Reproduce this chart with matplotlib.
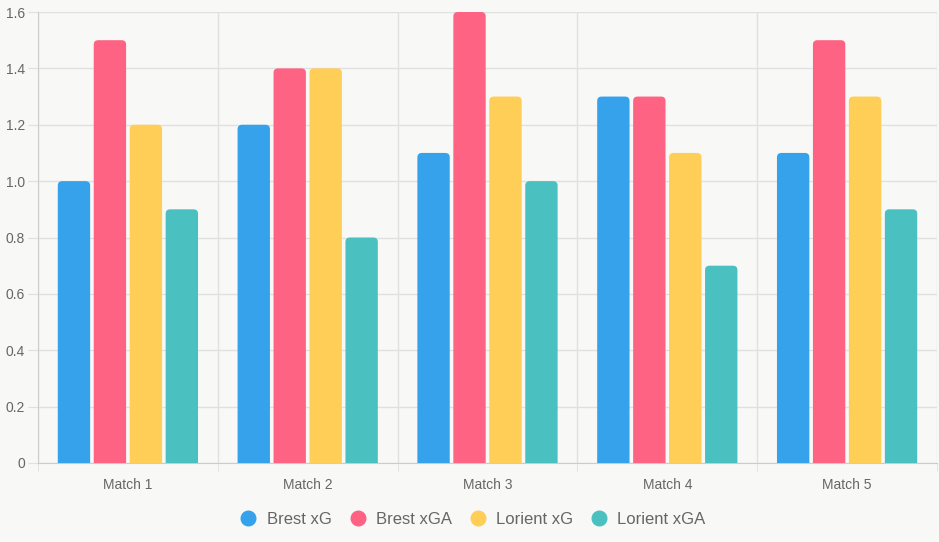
import matplotlib
matplotlib.use("Agg")
from matplotlib import pyplot as plt
from matplotlib.lines import Line2D
from matplotlib.patches import FancyBboxPatch
from matplotlib.ticker import FixedLocator, FuncFormatter

plt.rcParams["font.family"] = ["Liberation Sans", "DejaVu Sans"]

matches = ["Match 1", "Match 2", "Match 3", "Match 4", "Match 5"]
brest_xg = [1.0, 1.2, 1.1, 1.3, 1.1]
brest_xga = [1.5, 1.4, 1.6, 1.3, 1.5]
lorient_xg = [1.2, 1.4, 1.3, 1.1, 1.3]
lorient_xga = [0.9, 0.8, 1.0, 0.7, 0.9]

series = [
    ("Brest xG", brest_xg, "#36a2eb"),
    ("Brest xGA", brest_xga, "#ff6384"),
    ("Lorient xG", lorient_xg, "#ffce56"),
    ("Lorient xGA", lorient_xga, "#4bc0c0"),
]

BG = "#f8f8f6"
GRID = "#e0e0e0"
TEXT = "#666666"

fig = plt.figure(figsize=(9.39, 5.42), dpi=100, facecolor=BG)
ax = fig.add_axes([38 / 939, 1 - 463 / 542, 899 / 939, 451 / 542])
ax.set_facecolor(BG)

slot = 0.8 / len(series)
width = slot * 0.9
x = list(range(len(matches)))

for i, (name, vals, color) in enumerate(series):
    offset = (i - (len(series) - 1) / 2) * slot
    bars = ax.bar([k + offset for k in x], vals, width=width, color=color)
    # swap plain rectangles for ones with rounded top corners
    for rect in bars:
        x0, h = rect.get_x(), rect.get_height()
        rect.set_visible(False)
        p = FancyBboxPatch((x0, -0.03), width, h + 0.03,
                           boxstyle="round,pad=0,rounding_size=0.025",
                           mutation_aspect=0.62, fc=color, ec="none",
                           zorder=3, clip_on=True)
        ax.add_patch(p)

ax.set_xlim(-0.5, len(matches) - 0.5)
ax.set_ylim(0, 1.6)

ax.set_yticks([0, 0.2, 0.4, 0.6, 0.8, 1.0, 1.2, 1.4, 1.6])
ax.yaxis.set_major_formatter(FuncFormatter(lambda v, _: "0" if v == 0 else f"{v:.1f}"))
ax.set_xticks(x)
ax.set_xticklabels(matches)
ax.xaxis.set_minor_locator(FixedLocator([k - 0.5 for k in range(len(matches) + 1)]))

ax.grid(axis="y", which="major", color=GRID, linewidth=1, zorder=0)
ax.grid(axis="x", which="minor", color=GRID, linewidth=1, zorder=0)
ax.set_axisbelow(True)

ax.tick_params(axis="y", length=7.5, color=GRID, labelcolor=TEXT, labelsize=10, pad=2)
ax.tick_params(axis="x", which="major", length=0, labelcolor=TEXT, labelsize=10, pad=11)
ax.tick_params(axis="x", which="minor", length=6, color=GRID)

for side in ["top", "right"]:
    ax.spines[side].set_visible(False)
for side in ["left", "bottom"]:
    ax.spines[side].set_color("#cccccc")

handles = [Line2D([], [], marker="o", linestyle="", markersize=10.5,
                  markerfacecolor=c, markeredgecolor=c, label=n)
           for n, _, c in series]
fig.legend(handles=handles, loc="center", bbox_to_anchor=(472 / 939, 1 - 519 / 542),
           ncol=4, frameon=False, fontsize=12, labelcolor=TEXT,
           handletextpad=0.5, columnspacing=0.95, handlelength=1.2)

fig.savefig("out.png", dpi=100, facecolor=BG)
